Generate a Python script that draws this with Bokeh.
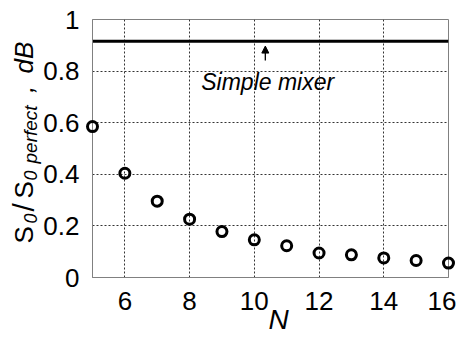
import numpy as np
from bokeh.plotting import figure
from bokeh.models import (ColumnDataSource, FixedTicker, NumeralTickFormatter,
                          Label, Arrow, NormalHead, Range1d)
from bokeh.core.properties import value
from bokeh.embed import file_html
from bokeh.resources import INLINE

# ---- data ----
N_values = [5, 6, 7, 8, 9, 10, 11, 12, 13, 14, 15, 16]
ratio_db = [0.585, 0.404, 0.296, 0.226, 0.178, 0.146, 0.123, 0.095, 0.088, 0.076, 0.066, 0.056]
simple_mixer_db = 0.916
x_ticks = [6, 8, 10, 12, 14, 16]
y_ticks = [0, 0.2, 0.4, 0.6, 0.8, 1.0]
annotation_text = "Simple mixer"
arrow_x = 10.34
arrow_y_start = 0.841
arrow_y_end = 0.897

FONT = "Liberation Sans"

p = figure(width=456, height=336, output_backend="svg", toolbar_location=None,
           x_range=Range1d(5, 16), y_range=Range1d(0, 1),
           min_border_left=92, min_border_right=8, min_border_top=19,
           min_border_bottom=59)
p.background_fill_color = "white"
p.border_fill_color = "white"
p.outline_line_color = "#808080"
p.outline_line_width = 1

# axes
for ax in (p.xaxis, p.yaxis):
    ax.axis_line_color = "#808080"
    ax.major_tick_line_color = None
    ax.minor_tick_line_color = None
    ax.major_label_text_font = FONT
    ax.major_label_text_font_size = "26px"
    ax.major_label_text_color = "black"
p.xaxis.ticker = FixedTicker(ticks=x_ticks)
p.yaxis.ticker = FixedTicker(ticks=y_ticks)
p.yaxis.formatter = NumeralTickFormatter(format="0.[0]")
p.xaxis.major_label_standoff = 8
p.yaxis.major_label_standoff = 7

# grid
for g in (p.xgrid, p.ygrid):
    g.grid_line_color = "#333333"
    g.grid_line_dash = "2 2"
    g.grid_line_width = 1
p.xgrid.ticker = FixedTicker(ticks=x_ticks)
p.ygrid.ticker = FixedTicker(ticks=y_ticks)

# simple mixer line
p.line(x=[N_values[0], N_values[-1]], y=[simple_mixer_db, simple_mixer_db],
       line_color="black", line_width=3)

# points
src = ColumnDataSource(dict(x=N_values, y=ratio_db))
r = p.scatter("x", "y", source=src, marker="circle", size=10,
              fill_color=None, line_color="black", line_width=3)
r.level = "overlay"

# arrow + annotation
p.add_layout(Arrow(end=NormalHead(size=7, fill_color="black", line_color="black", line_width=1),
                   x_start=arrow_x, y_start=arrow_y_start, x_end=arrow_x, y_end=arrow_y_end,
                   line_color="black", line_width=1.3))
p.add_layout(Label(x=8.36, y=0.758, text=annotation_text, text_font=FONT,
                   text_font_style="italic", text_font_size="23px",
                   text_color="black", text_align="left", text_baseline="alphabetic"))

# axis labels drawn as unclipped text glyphs (positions in data units outside the frame)
label_pieces = [
    # text, x, y, angle, style, size, align
    ("N", 10.75, -0.164, 0.0, "italic", "28px", "center"),
    ("S", 2.868, 0.132, np.pi / 2, "normal", "26px", "left"),
    ("0", 3.084, 0.209, np.pi / 2, "italic", "18px", "left"),
    ("/", 2.868, 0.256, np.pi / 2, "normal", "30px", "left"),
    ("S", 2.868, 0.306, np.pi / 2, "normal", "26px", "left"),
    ("0", 3.084, 0.376, np.pi / 2, "italic", "18px", "left"),
    ("perfect", 3.084, 0.442, np.pi / 2, "italic", "19px", "left"),
    (",", 2.868, 0.715, np.pi / 2, "italic", "26px", "left"),
    ("dB", 2.868, 0.791, np.pi / 2, "italic", "26px", "left"),
]
for t, xx, yy, ang, st, fs, al in label_pieces:
    tr = p.text(x=[xx], y=[yy], text=[t], angle=ang, text_font=value(FONT),
                text_font_style=st, text_font_size=fs, text_color="black",
                text_align=al, text_baseline="alphabetic")
    tr.level = "overlay"

open("out.html", "w").write(file_html(p, INLINE))
